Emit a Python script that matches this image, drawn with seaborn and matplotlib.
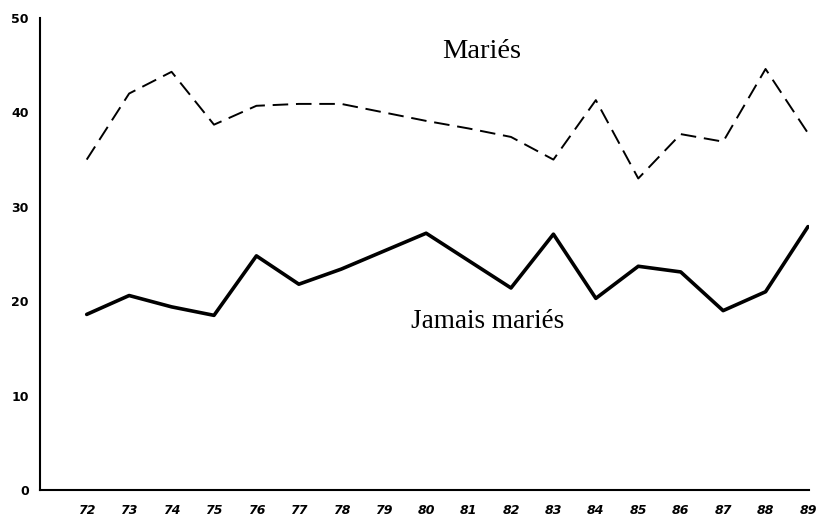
import matplotlib
matplotlib.use("Agg")
import matplotlib.pyplot as plt
import seaborn as sns
import pandas as pd

years = list(range(72, 90))
maries = [35.0, 42.0, 44.3, 38.7, 40.7, 40.9, 40.9, 40.0, 39.1, 38.3, 37.4, 35.0, 41.3, 33.0, 37.7, 36.9, 44.6, 37.8]
jamais_maries = [18.6, 20.6, 19.4, 18.5, 24.8, 21.8, 23.4, 25.3, 27.2, 24.3, 21.4, 27.1, 20.3, 23.7, 23.1, 19.0, 21.0, 27.9]
series_names = ["Mariés", "Jamais mariés"]
y_ticks = [0, 10, 20, 30, 40, 50]

df = pd.DataFrame({
    "annee": years * 2,
    "valeur": maries + jamais_maries,
    "groupe": [series_names[0]] * len(years) + [series_names[1]] * len(years),
})

sns.set_style("white")
plt.rcParams["text.color"] = "black"
plt.rcParams["xtick.color"] = "black"
plt.rcParams["ytick.color"] = "black"
fig = plt.figure(figsize=(8.17, 5.25), dpi=100)
ax = fig.add_axes([0.049, 0.0667, 0.941, 0.899])

sns.lineplot(data=df, x="annee", y="valeur", hue="groupe", style="groupe",
             palette={series_names[0]: "black", series_names[1]: "black"},
             dashes={series_names[0]: (8, 4), series_names[1]: ""},
             size="groupe", sizes={series_names[0]: 1.4, series_names[1]: 2.6},
             legend=False, ax=ax)

ax.set_xlim(70.9, 89.02)
ax.set_ylim(0, 50)
ax.set_xticks(years)
ax.set_xticklabels([str(y) for y in years], fontstyle="italic", fontweight="bold",
                   fontsize=9, family="DejaVu Sans", color="black")
ax.set_yticks(y_ticks)
ax.set_yticklabels([str(v) for v in y_ticks], fontweight="bold", fontsize=9,
                   family="DejaVu Sans", color="black")
ax.set_xlabel("")
ax.set_ylabel("")
for s in ["top", "right"]:
    ax.spines[s].set_visible(False)
for s in ["left", "bottom"]:
    ax.spines[s].set_color("black")
    ax.spines[s].set_linewidth(1.5)
ax.tick_params(axis="both", direction="out", length=5, width=1.2, color="black", pad=3)
ax.tick_params(axis="x", pad=5)

ax.text(81.3, 46.4, "Mariés", family="Liberation Serif", fontsize=20.5,
        ha="center", va="center", color="black")
ax.text(81.46, 17.8, "Jamais mariés", family="Liberation Serif", fontsize=19.5,
        ha="center", va="center", color="black")

fig.savefig("out.png", dpi=100)
